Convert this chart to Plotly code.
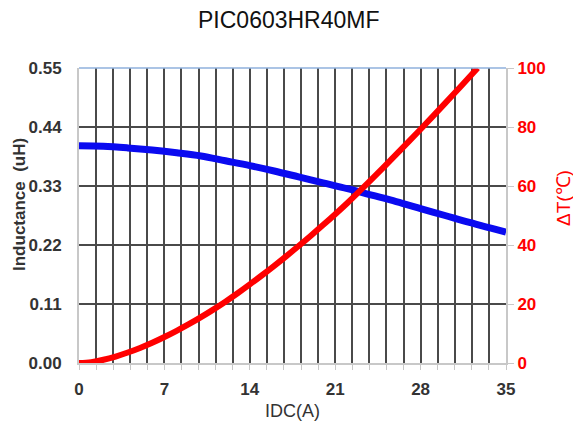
import plotly.graph_objects as go

# Data
idc_L = [0, 2, 4, 6, 8, 10, 12, 14, 16, 18, 20, 22, 24, 26, 28, 30, 32, 34, 35]
inductance = [0.405, 0.404, 0.401, 0.397, 0.392, 0.386, 0.377, 0.368, 0.358, 0.347,
              0.336, 0.325, 0.313, 0.301, 0.288, 0.275, 0.262, 0.250, 0.244]

idc_T = [0, 1, 2, 3, 4, 5, 6, 7, 8, 9, 10, 11, 12, 13, 14, 15, 16, 17, 18, 19, 20,
         21, 22, 23, 24, 25, 26, 27, 28, 29, 30, 31, 32, 32.68]
delta_t = [0, 0.3, 1.1, 2.2, 3.55, 5.1, 6.85, 8.8, 10.9, 13.15, 15.55, 18.1, 20.8, 23.65,
           26.65, 29.75, 32.95, 36.25, 39.65, 43.15, 46.75, 50.45, 54.25, 58.25, 62.35,
           66.5, 70.7, 74.95, 79.25, 83.6, 88.0, 92.45, 96.95, 100]

x_ticks = [0, 7, 14, 21, 28, 35]
y_ticks = [0.00, 0.11, 0.22, 0.33, 0.44, 0.55]
y2_ticks = [0, 20, 40, 60, 80, 100]

title_text = "PIC0603HR40MF"
x_title = "IDC(A)"
y_title = "Inductance  (uH)"
y2_title = "ΔT(℃)"

SANS = "Liberation Sans, Arial, sans-serif"
GRID = "#4a4a4a"
BORDER = "#c8c8c8"

fig = go.Figure()
fig.add_trace(go.Scatter(x=idc_L, y=inductance, mode="lines",
                         line=dict(color="#0a0af0", width=7, shape="spline"),
                         yaxis="y", showlegend=False))
fig.add_trace(go.Scatter(x=idc_T, y=delta_t, mode="lines",
                         line=dict(color="#ff0000", width=6, shape="spline"),
                         yaxis="y2", showlegend=False))

fig.update_layout(
    width=573, height=434,
    margin=dict(l=79, r=67, t=68, b=71),
    paper_bgcolor="white", plot_bgcolor="white",
    xaxis=dict(range=[0, 35], tickvals=x_ticks, ticktext=[str(v) for v in x_ticks],
               showgrid=True, gridcolor=GRID, gridwidth=1.5,
               minor=dict(dtick=1.4, tick0=0, showgrid=True, gridcolor=GRID, gridwidth=1.5,
                          ticks="outside", ticklen=5, tickcolor=BORDER),
               ticks="outside", ticklen=5, tickcolor=BORDER, ticklabelstandoff=5,
               showline=True, linecolor=BORDER, linewidth=2, mirror=False,
               tickfont=dict(family=SANS, size=17, color="#333333", weight="bold"),
               zeroline=False, fixedrange=True),
    yaxis=dict(range=[0, 0.55], tickvals=y_ticks, ticktext=["%.2f" % v for v in y_ticks],
               showgrid=True, gridcolor=GRID, gridwidth=1.5, ticks="", ticklabelstandoff=12,
               showline=True, linecolor=BORDER, linewidth=2,
               tickfont=dict(family=SANS, size=17, color="#333333", weight="bold"),
               zeroline=False),
    yaxis2=dict(range=[0, 100], tickvals=y2_ticks, overlaying="y", side="right",
                showgrid=False, ticks="outside", ticklen=6, tickcolor=BORDER,
                showline=True, linecolor=BORDER, linewidth=2,
                tickfont=dict(family=SANS, size=17, color="#ff0000", weight="bold"),
                zeroline=False),
    shapes=[dict(type="line", xref="paper", yref="paper", x0=0, x1=1, y0=1, y1=1,
                 line=dict(color="#8fb1dc", width=1.5))],
)

# Annotation positions (pixel -> paper coordinates)
W, H = 573, 434
L, R, T, B = 79, 67, 68, 71
pw, ph = W - L - R, H - T - B
def px(x):
    return (x - L) / pw
def py(y):
    return (H - B - y) / ph

fig.update_layout(annotations=[
    dict(text=title_text, x=px(289), y=py(20), xref="paper", yref="paper", showarrow=False,
         xanchor="center", yanchor="middle",
         font=dict(family=SANS, size=23, color="#111111")),
    dict(text=x_title, x=px(292), y=py(411), xref="paper", yref="paper", showarrow=False,
         xanchor="center", yanchor="middle",
         font=dict(family=SANS, size=18, color="#333333")),
    dict(text=y_title, x=px(19), y=py(205), xref="paper", yref="paper", showarrow=False,
         textangle=-90, xanchor="center", yanchor="middle",
         font=dict(family=SANS, size=17, color="#333333", weight="bold")),
    dict(text=y2_title, x=px(563), y=py(198), xref="paper", yref="paper", showarrow=False,
         textangle=-90, xanchor="center", yanchor="middle",
         font=dict(family=SANS, size=19, color="#ff0000")),
])

fig.write_html("out.html")
